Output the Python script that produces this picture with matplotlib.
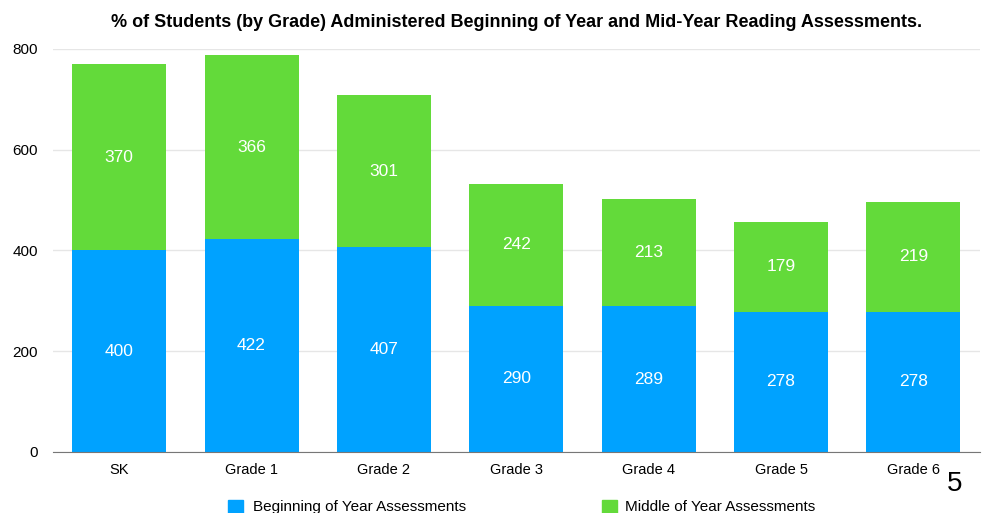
import matplotlib
matplotlib.use("Agg")
import matplotlib.pyplot as plt
from matplotlib.patches import Rectangle

plt.rcParams['font.family'] = ['Liberation Sans', 'DejaVu Sans']

grades = ["SK", "Grade 1", "Grade 2", "Grade 3", "Grade 4", "Grade 5", "Grade 6"]
beginning = [400, 422, 407, 290, 289, 278, 278]
middle = [370, 366, 301, 242, 213, 179, 219]

blue = "#00A2FF"
green = "#63DA3A"

fig = plt.figure(figsize=(9.9, 5.13), dpi=100)
ax = fig.add_axes([0.0535, 0.119, 0.936, 0.7856])

x = range(len(grades))
ax.bar(x, beginning, width=0.71, color=blue, zorder=3)
ax.bar(x, middle, width=0.71, bottom=beginning, color=green, zorder=3)

for i in x:
    ax.text(i, beginning[i] / 2, str(beginning[i]), ha="center", va="center",
            color="white", fontsize=12.5, zorder=4)
    ax.text(i, beginning[i] + middle[i] / 2, str(middle[i]), ha="center", va="center",
            color="white", fontsize=12.5, zorder=4)

ax.set_xlim(-0.5, 6.5)
ax.set_ylim(0, 800)
ax.set_yticks([0, 200, 400, 600, 800])
ax.set_xticks(list(x))
ax.set_xticklabels(grades)
ax.tick_params(length=0)
ax.tick_params(axis="x", pad=8, labelsize=10.5)
ax.tick_params(axis="y", pad=11, labelsize=11)
ax.yaxis.grid(True, color="#e6e6e6", linewidth=1, zorder=0)
for s in ["top", "right", "left"]:
    ax.spines[s].set_visible(False)
ax.spines["bottom"].set_color("#777777")
ax.spines["bottom"].set_zorder(5)

fig.text(0.522, 0.957, "% of Students (by Grade) Administered Beginning of Year and Mid-Year Reading Assessments.",
         ha="center", va="center", fontsize=13, fontweight="bold")

# legend at bottom
fig.patches.append(Rectangle((228 / 990, 0), 15 / 990, 13 / 513, color=blue, transform=fig.transFigure))
fig.text(253 / 990, 6 / 513, "Beginning of Year Assessments", va="center", fontsize=11)
fig.patches.append(Rectangle((602 / 990, 0), 15 / 990, 13 / 513, color=green, transform=fig.transFigure))
fig.text(625 / 990, 6 / 513, "Middle of Year Assessments", va="center", fontsize=11)

fig.text(955 / 990, 1 - 484 / 513, "5", ha="center", va="center", fontsize=20)

fig.savefig("out.png", dpi=100)
